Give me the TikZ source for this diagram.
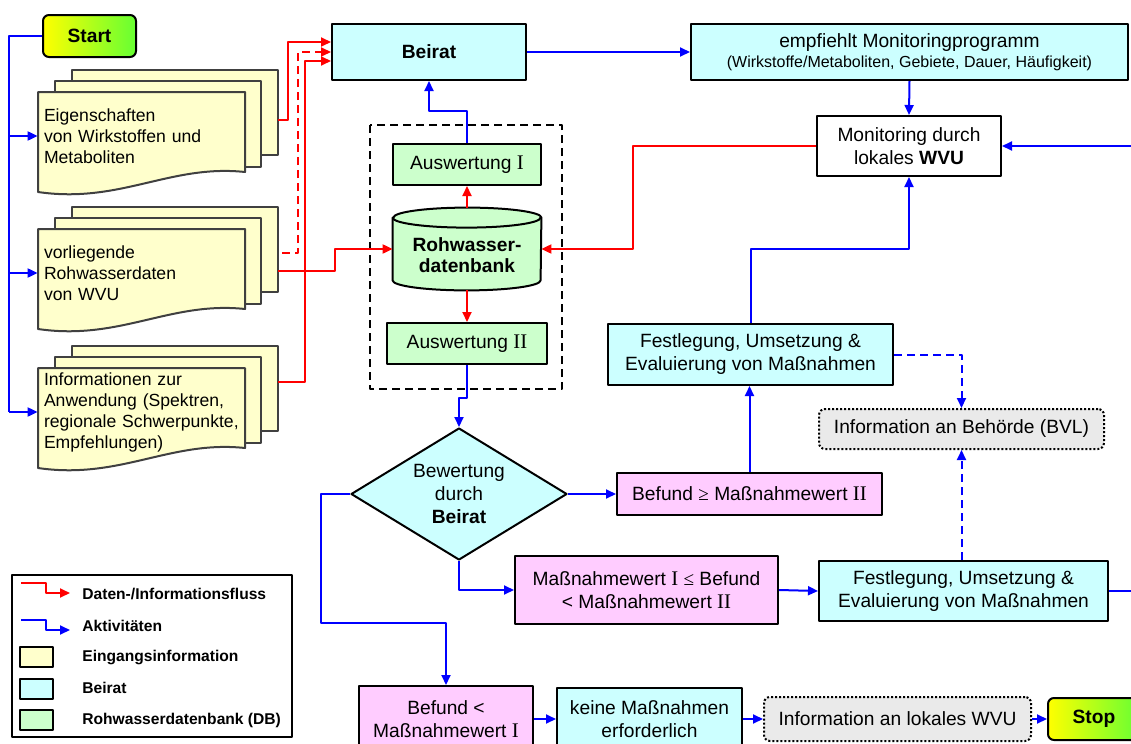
\documentclass[tikz,border=0pt]{standalone}
\usepackage{fontspec}
\setmainfont{Liberation Sans}
\newfontfamily\romfont{Liberation Serif}
\usetikzlibrary{shapes.geometric,arrows.meta}
\definecolor{docyellow}{HTML}{FFFFCC}
\definecolor{docline}{HTML}{404040}
\definecolor{beiratcyan}{HTML}{CCFFFF}
\definecolor{dbgreen}{HTML}{CCFFCC}
\definecolor{befpink}{HTML}{FFCCFF}
\definecolor{infogrey}{HTML}{EAEAEA}
\definecolor{termyellow}{HTML}{FFFF00}
\definecolor{termgreen}{HTML}{66FF33}
\newcommand\rI{{\romfont\fontsize{10.4}{11.5}\selectfont I}}
\newcommand\rII{{\romfont\fontsize{10.4}{11.5}\selectfont II}}
\newcommand\rle{{\romfont ≤}}
\newcommand\rge{{\romfont ≥}}
% stack of three pages: name, top of front page, text
\newcommand\docstack[3]{%
  \filldraw[docpage] (72,#2-22) rectangle (278,#2+63);
  \filldraw[docpage] (55,#2-11) rectangle (261,#2+75);
  \filldraw[docpage] (38,#2) -- (245,#2) -- (245,#2+80) .. controls (170,#2+72) and (120,#2+112) .. (38,#2+100) -- cycle;
  \node[doctext] (#1) at (141.5,#2+44) {#3};
}
\begin{document}
\begin{tikzpicture}[x=0.5pt,y=-0.5pt,line join=round,
  font=\fontsize{9.6}{11.5}\selectfont,
  >={Triangle[length=5pt,width=4.5pt]},
  box/.style={draw,line width=1pt,inner sep=0pt,align=center},
  docpage/.style={draw=docline,fill=docyellow,line width=1pt},
  doctext/.style={minimum height=44pt,text width=97.5pt,inner sep=3pt,align=left,font=\fontsize{8.8}{10.5}\selectfont},
  act/.style={->,blue,line width=1pt},
  data/.style={->,red,line width=1pt},
  dashline/.style={dash pattern=on 4pt off 2.5pt},
  infobox/.style={draw,densely dotted,line width=1pt,fill=infogrey,rounded corners=3pt,inner sep=0pt},
  term/.style={draw,line width=1pt,rounded corners=3pt,left color=termyellow,right color=termgreen,inner sep=0pt,font=\fontsize{9.6}{11.5}\selectfont\bfseries},
  legtext/.style={anchor=west,inner sep=0pt,font=\fontsize{7.8}{9}\selectfont\bfseries},
  swatch/.style={draw,line width=1pt,minimum width=16.5pt,minimum height=10pt,inner sep=0pt}]
\useasboundingbox (0,0) rectangle (1131,744);
\clip (0,0) rectangle (1131,744);

% input documents
\docstack{doc1}{92}{Eigenschaften\\von Wirkstoffen und\\Metaboliten}
\docstack{doc2}{229}{vorliegende\\Rohwasserdaten\\von WVU}
\docstack{doc3}{368}{Informationen zur\\Anwendung (Spektren,\\\mbox{regionale Schwerpunkte,}\\Empfehlungen)}
\coordinate (d1out) at (278,120);
\coordinate (d2dash) at (282,253);
\coordinate (d2out) at (278,271);
\coordinate (d3out) at (278,382);

\node[term,minimum width=46.5pt,minimum height=21pt] (start) at (89.5,36) {Start};

% Beirat and monitoring
\node[box,fill=beiratcyan,minimum width=97pt,minimum height=28pt,font=\fontsize{9.6}{11.5}\selectfont\bfseries] (beirat) at (429,52) {Beirat};
\node[box,fill=beiratcyan,minimum width=218.5pt,minimum height=28pt,font=\fontsize{9.6}{11}\selectfont] (empf) at (909.5,52) {empfiehlt Monitoringprogramm\\[-1pt]{\fontsize{8}{9}\selectfont(Wirkstoffe/Metaboliten, Gebiete, Dauer, Häufigkeit)}};
\node[box,fill=white,minimum width=92pt,minimum height=30pt] (monit) at (909,146) {Monitoring durch\\lokales \textbf{WVU}};

% database group
\draw[line width=1pt,dashline] (370,125) rectangle (562,389);
\node[box,fill=dbgreen,minimum width=74pt,minimum height=20.5pt] (ausw1) at (467,164.5) {Auswertung \rI};
\node[minimum width=74pt,minimum height=41pt,inner sep=0pt,align=center] (db) at (467,249) {};
\filldraw[line width=1pt,fill=dbgreen] ([yshift=-5pt]db.north west) -- ([yshift=5pt]db.south west)
  arc[start angle=180,end angle=360,x radius=37pt,y radius=5pt] -- ([yshift=-5pt]db.north east)
  arc[start angle=0,end angle=180,x radius=37pt,y radius=5pt] -- cycle;
\draw[line width=1pt] ([yshift=-5pt]db.north west) arc[start angle=180,end angle=360,x radius=37pt,y radius=5pt];
\node[align=center,font=\fontsize{9.6}{10.5}\selectfont\bfseries] at ([yshift=-3pt]db.center) {Rohwasser-\\datenbank};
\node[box,fill=dbgreen,minimum width=80pt,minimum height=20.5pt] (ausw2) at (467,343.5) {Auswertung \rII};

% evaluation
\node[diamond,draw,line width=1pt,fill=beiratcyan,aspect=1.64,minimum width=108pt,minimum height=66pt,inner sep=0pt,align=center] (dia) at (459,494) {Bewertung\\durch\\\textbf{Beirat}};
\node[box,fill=befpink,minimum width=132.5pt,minimum height=21pt] (bef2) at (749.5,494) {Befund \rge{} Maßnahmewert \rII};
\node[box,fill=beiratcyan,minimum width=142.5pt,minimum height=30.5pt] (fest1) at (750.5,354.5) {Festlegung, Umsetzung \&\\Evaluierung von Maßnahmen};
\node[infobox,minimum width=142.5pt,minimum height=20pt] (infobvl) at (961.5,429) {Information an Behörde (BVL)};
\node[box,fill=befpink,minimum width=131.5pt,minimum height=34pt] (mw12) at (646.5,590) {Maßnahmewert \rI{} \rle{} Befund\\< Maßnahmewert \rII};
\node[box,fill=beiratcyan,minimum width=144.5pt,minimum height=30pt] (fest2) at (963.5,591) {Festlegung, Umsetzung \&\\Evaluierung von Maßnahmen};
\node[box,fill=befpink,minimum width=87pt,minimum height=33pt] (bef1) at (446,719) {Befund <\\Maßnahmewert \rI};
\node[box,fill=beiratcyan,minimum width=92.5pt,minimum height=31pt] (keine) at (649.5,719) {keine Maßnahmen\\erforderlich};
\node[infobox,minimum width=133.5pt,minimum height=22pt] (infowvu) at (897.5,719) {Information an lokales WVU};
\node[term,minimum width=46pt,minimum height=21pt] (stop) at (1094,719) {Stop};
\coordinate (rin) at (1140,146);
\coordinate (rout) at (1140,591);

% activities
\draw[blue,line width=1pt] (start.west) -- ++(-33,0) coordinate (rail) -- (rail |- doc3.west);
\foreach \d in {doc1,doc2,doc3}{\draw[act] (rail |- \d.west) -- (\d.west);}
\draw[act] (beirat.east) -- (empf.west);
\draw[act] (empf.south) -- (monit.north);
\draw[act] (rin) -- (monit.east);
\draw[act] (ausw1.north) -- ++(0,-32) -| (beirat.south);
\draw[act] (ausw2.south) -- ++(0,33) -| (dia.north);
\draw[act] (dia.east) -- (bef2.west);
\draw[act] (bef2.north) -- (bef2.north |- fest1.south);
\draw[act] (fest1.north) -- ++(0,-74) -| (monit.south);
\draw[act,dashline] (fest1.east) -| (infobvl.north);
\draw[act,dashline] (infobvl.south |- fest2.north) -- (infobvl.south);
\draw[act] (dia.south) |- (mw12.west);
\draw[act] (mw12.east) -- (fest2.west);
\draw[blue,line width=1pt] (fest2.east) -- (rout);
\draw[act] (dia.west) -| ++(-29,129) -| (bef1.north);
\draw[act] (bef1.east) -- (keine.west);
\draw[act] (keine.east) -- (infowvu.west);
\draw[act] (infowvu.east) -- (stop.west);

% data flow
\draw[data] (d1out) -- ++(10,0) |- ([yshift=5pt]beirat.west);
\draw[data,dashline] (d2dash) -- ++(16,0) |- (beirat.west);
\draw[data] (d3out) -- ++(27,0) |- ([yshift=-4.5pt]beirat.west);
\draw[data] (d2out) -- ++(57,0) |- (db.west);
\draw[data] (monit.west) -- ++(-183,0) |- (db.east);
\draw[data] (db.north) -- (ausw1.south);
\draw[data] (db.south) -- (ausw2.north);

% legend
\draw[line width=1pt] (12,575) rectangle (292,737);
\draw[data] (21,583) -- (46,583) -- (46,593) -- (70,593);
\draw[act] (21,620) -- (46,620) -- (46,630) -- (70,630);
\node[swatch,fill=docyellow] (sw1) at (36.5,657) {};
\node[swatch,fill=beiratcyan] (sw2) at (36.5,689) {};
\node[swatch,fill=dbgreen] (sw3) at (36.5,720) {};
\node[legtext] (leg1) at (82,594) {Daten-/Informationsfluss};
\node[legtext] (leg2) at (82,626) {Aktivitäten};
\node[legtext] (leg3) at (82,657) {Eingangsinformation};
\node[legtext] (leg4) at (82,688) {Beirat};
\node[legtext] (leg5) at (82,720) {Rohwasserdatenbank (DB)};
\end{tikzpicture}
\end{document}
